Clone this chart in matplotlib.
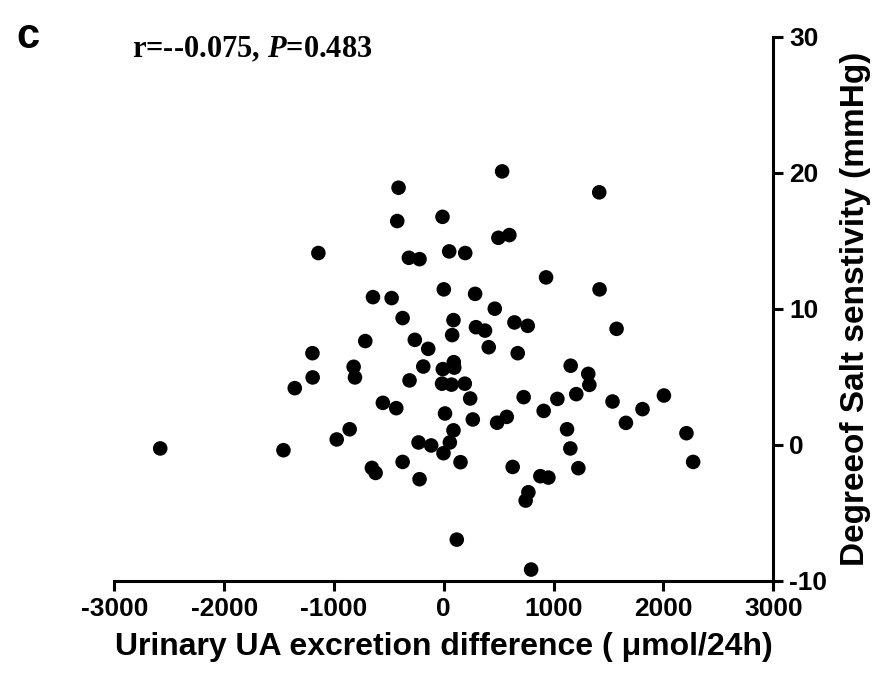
import matplotlib
matplotlib.use("Agg")
import matplotlib.pyplot as plt

# Urinary UA excretion difference (umol/24h)
ua_diff = [-2582, -1460, -1357, -1194, -1196, -1142, -975, -857, -821, -809,
           -715, -655, -621, -645, -555, -475, -433, -424, -412, -375,
           -375, -318, -221, -312, -264, -230, -221, -187, -142, -115,
           -12, 0, -9, -16, 11, -3, 49, 88, 76, 91,
           95, 70, 55, 88, 152, 118, 195, 191, 240, 264,
           285, 293, 375, 409, 464, 485, 497, 531, 573, 597,
           627, 643, 673, 727, 764, 770, 745, 795, 879, 952,
           909, 931, 1034, 1122, 1155, 1152, 1206, 1225, 1315, 1325,
           1415, 1418, 1536, 1573, 1658, 1809, 2004, 2209, 2270]
# Degree of salt sensitivity (mmHg)
salt_sens = [-0.26, -0.39, 4.17, 4.96, 6.74, 14.10, 0.40, 1.15, 5.74, 4.96,
             7.63, -1.69, -2.06, 10.86, 3.09, 10.79, 2.70, 16.45, 18.90, 9.32,
             -1.25, 13.75, 13.65, 4.74, 7.72, 0.18, -2.52, 5.76, 7.06, -0.04,
             16.76, 11.43, 5.57, 4.50, 2.31, -0.61, 14.22, 9.17, 8.07, 6.08,
             5.68, 4.43, 0.18, 1.07, -1.27, -6.96, 14.10, 4.50, 3.41, 1.87,
             11.10, 8.65, 8.40, 7.18, 10.01, 1.63, 15.22, 20.10, 2.06, 15.42,
             -1.62, 9.00, 6.74, 3.51, 8.75, -3.48, -4.09, -9.16, -2.30, -2.40,
             2.50, 12.31, 3.38, 1.15, 5.82, -0.26, 3.73, -1.71, 5.22, 4.41,
             18.56, 11.43, 3.19, 8.53, 1.62, 2.63, 3.63, 0.86, -1.25]

x_ticks = [-3000, -2000, -1000, 0, 1000, 2000, 3000]
y_ticks = [-10, 0, 10, 20, 30]

plt.rcParams["axes.unicode_minus"] = False
plt.rcParams["mathtext.fontset"] = "custom"
plt.rcParams["mathtext.rm"] = "Liberation Serif:bold"
plt.rcParams["mathtext.it"] = "Liberation Serif:italic:bold"

sans = ["Liberation Sans", "DejaVu Sans"]
serif = ["Liberation Serif", "DejaVu Serif"]

fig = plt.figure(figsize=(8.84, 6.84), dpi=100)
ax = fig.add_axes([0.1293, 0.1506, 0.7455, 0.7958])

ax.scatter(ua_diff, salt_sens, s=110, color="black", edgecolors="none", zorder=3)

ax.set_xlim(-3000, 3000)
ax.set_ylim(-10, 30)
ax.set_xticks(x_ticks)
ax.set_yticks(y_ticks)

for s in ["left", "top"]:
    ax.spines[s].set_visible(False)
for s in ["right", "bottom"]:
    ax.spines[s].set_linewidth(2.2)
    ax.spines[s].set_color("black")

ax.yaxis.tick_right()
ax.yaxis.set_label_position("right")
ax.tick_params(axis="both", direction="out", length=7.5, width=2.2, color="black")
ax.tick_params(axis="x", pad=4)
ax.tick_params(axis="y", pad=4)
for lab in ax.get_xticklabels() + ax.get_yticklabels():
    lab.set_family(sans)
    lab.set_fontweight("bold")
    lab.set_fontsize(19)

ax.set_xlabel("Urinary UA excretion difference ( \u03bcmol/24h)",
              family=sans, fontweight="bold", fontsize=23, labelpad=8)
ax.set_ylabel("Degreeof Salt senstivity (mmHg)",
              family=sans, fontweight="bold", fontsize=24, labelpad=9)

fig.text(0.018, 0.946, "c", family=sans, fontweight="bold", fontsize=30,
         va="center", ha="left")
fig.text(0.149, 0.927, r"r=--0.075, $\mathit{P}$=0.483", family=serif,
         fontweight="bold", fontsize=22, va="center", ha="left")

fig.savefig("out.png", dpi=100)
